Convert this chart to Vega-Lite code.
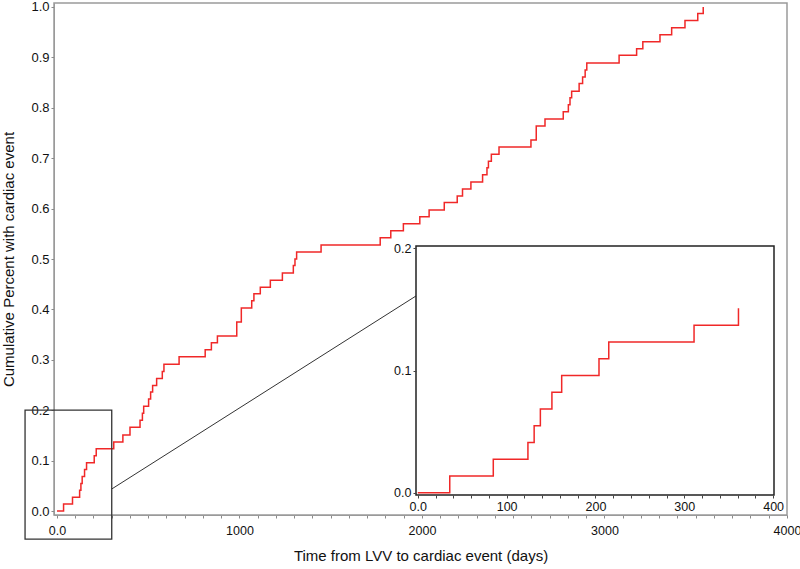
{
  "$schema": "https://vega.github.io/schema/vega-lite/v6.json",
  "width": 733,
  "height": 512,
  "autosize": {"type": "none"},
  "padding": {"left": 54, "top": 3, "right": 13, "bottom": 54},
  "background": "white",
  "config": {
    "font": "Liberation Sans",
    "view": {"stroke": "#9a9a9a", "strokeWidth": 1.5},
    "axis": {
      "labelFont": "Liberation Sans",
      "titleFont": "Liberation Sans",
      "labelFontSize": 12.5,
      "labelColor": "#111",
      "titleFontSize": 15,
      "titleFontWeight": "normal",
      "titleColor": "#111",
      "grid": false,
      "tickSize": 3,
      "tickCount": 200,
      "labelPadding": 2,
      "labelFlush": false,
      "labelOverlap": false
    }
  },
  "datasets": {
    "main": [
      {"day": 0, "p": 0},
      {"day": 36, "p": 0.0137},
      {"day": 85, "p": 0.0274},
      {"day": 124, "p": 0.0411},
      {"day": 131, "p": 0.0548},
      {"day": 138, "p": 0.0685},
      {"day": 151, "p": 0.0822},
      {"day": 162, "p": 0.0959},
      {"day": 204, "p": 0.1096},
      {"day": 215, "p": 0.1233},
      {"day": 311, "p": 0.137},
      {"day": 361, "p": 0.151},
      {"day": 400, "p": 0.166},
      {"day": 455, "p": 0.18},
      {"day": 468, "p": 0.194},
      {"day": 475, "p": 0.208},
      {"day": 502, "p": 0.222},
      {"day": 513, "p": 0.236},
      {"day": 524, "p": 0.249},
      {"day": 546, "p": 0.263},
      {"day": 577, "p": 0.277},
      {"day": 586, "p": 0.291},
      {"day": 669, "p": 0.306},
      {"day": 812, "p": 0.32},
      {"day": 846, "p": 0.334},
      {"day": 879, "p": 0.347},
      {"day": 985, "p": 0.375},
      {"day": 1010, "p": 0.403},
      {"day": 1067, "p": 0.417},
      {"day": 1079, "p": 0.431},
      {"day": 1114, "p": 0.444},
      {"day": 1169, "p": 0.458},
      {"day": 1235, "p": 0.472},
      {"day": 1295, "p": 0.487},
      {"day": 1304, "p": 0.5},
      {"day": 1313, "p": 0.514},
      {"day": 1447, "p": 0.528},
      {"day": 1771, "p": 0.542},
      {"day": 1829, "p": 0.556},
      {"day": 1898, "p": 0.57},
      {"day": 1988, "p": 0.584},
      {"day": 2039, "p": 0.597},
      {"day": 2122, "p": 0.612},
      {"day": 2193, "p": 0.625},
      {"day": 2222, "p": 0.639},
      {"day": 2268, "p": 0.653},
      {"day": 2332, "p": 0.667},
      {"day": 2356, "p": 0.681},
      {"day": 2364, "p": 0.694},
      {"day": 2380, "p": 0.708},
      {"day": 2422, "p": 0.722},
      {"day": 2597, "p": 0.736},
      {"day": 2626, "p": 0.764},
      {"day": 2674, "p": 0.778},
      {"day": 2774, "p": 0.792},
      {"day": 2802, "p": 0.806},
      {"day": 2811, "p": 0.82},
      {"day": 2820, "p": 0.833},
      {"day": 2861, "p": 0.848},
      {"day": 2880, "p": 0.861},
      {"day": 2894, "p": 0.875},
      {"day": 2903, "p": 0.889},
      {"day": 3080, "p": 0.904},
      {"day": 3176, "p": 0.917},
      {"day": 3210, "p": 0.931},
      {"day": 3304, "p": 0.945},
      {"day": 3368, "p": 0.959},
      {"day": 3441, "p": 0.973},
      {"day": 3511, "p": 0.987},
      {"day": 3541, "p": 1.0}
    ],
    "inset": [
      {"day": 0, "p": 0},
      {"day": 36, "p": 0.0137},
      {"day": 85, "p": 0.0274},
      {"day": 124, "p": 0.0411},
      {"day": 131, "p": 0.0548},
      {"day": 138, "p": 0.0685},
      {"day": 151, "p": 0.0822},
      {"day": 162, "p": 0.0959},
      {"day": 204, "p": 0.1096},
      {"day": 215, "p": 0.1233},
      {"day": 311, "p": 0.137},
      {"day": 361, "p": 0.151}
    ],
    "one": [{"k": 1}]
  },
  "resolve": {
    "scale": {"x": "independent", "y": "independent"},
    "axis": {"x": "independent", "y": "independent"}
  },
  "layer": [
    {
      "layer": [
        {
          "data": {"name": "main"},
          "mark": {"type": "line", "interpolate": "step-after", "color": "#f02828", "strokeWidth": 1.5},
          "encoding": {
            "x": {
              "field": "day", "type": "quantitative",
              "scale": {"domain": [-16.4, 4000], "nice": false, "zero": false},
              "axis": {
                "title": "Time from LVV to cardiac event (days)",
                "values": [0,100,200,300,400,500,600,700,800,900,1000,1100,1200,1300,1400,1500,1600,1700,1800,1900,2000,2100,2200,2300,2400,2500,2600,2700,2800,2900,3000,3100,3200,3300,3400,3500,3600,3700,3800,3900,4000],
                "format": "d",
                "labelExpr": "datum.value % 1000 === 0 ? (datum.value === 0 ? '0.0' : datum.label) : ''",
                "domainColor": "#9a9a9a",
                "tickColor": "#8a8a8a",
                "labelPadding": 6,
                "titlePadding": 12
              }
            },
            "y": {
              "field": "p", "type": "quantitative",
              "scale": {"domain": [-0.0079, 1.0079], "nice": false, "zero": false},
              "axis": {
                "title": "Cumulative Percent with cardiac event",
                "values": [0,0.1,0.2,0.3,0.4,0.5,0.6,0.7,0.8,0.9,1.0],
                "format": ".1f",
                "labelFontSize": 13,
                "domainColor": "#9a9a9a",
                "tickColor": "#8a8a8a",
                "titlePadding": 14
              }
            }
          }
        },
        {
          "data": {"name": "one"},
          "mark": {"type": "rect", "fill": null, "stroke": "#333", "strokeWidth": 1.3},
          "encoding": {
            "x": {"datum": -175, "type": "quantitative"},
            "x2": {"datum": 300},
            "y": {"datum": -0.0556, "type": "quantitative"},
            "y2": {"datum": 0.2}
          }
        },
        {
          "data": {"name": "one"},
          "mark": {"type": "rule", "color": "#333", "strokeWidth": 1},
          "encoding": {
            "x": {"datum": 300, "type": "quantitative"},
            "x2": {"datum": 1967},
            "y": {"datum": 0.0437, "type": "quantitative"},
            "y2": {"datum": 0.4266}
          }
        }
      ]
    },
    {
      "layer": [
        {
          "data": {"name": "one"},
          "mark": {"type": "rect", "fill": "white", "stroke": "#222", "strokeWidth": 1.5},
          "encoding": {
            "x": {"datum": -2, "type": "quantitative"},
            "x2": {"datum": 401},
            "y": {"datum": -0.0019, "type": "quantitative"},
            "y2": {"datum": 0.2019}
          }
        },
        {
          "data": {"name": "inset"},
          "mark": {"type": "line", "interpolate": "step-after", "color": "#f02828", "strokeWidth": 1.5},
          "encoding": {
            "x": {
              "field": "day", "type": "quantitative",
              "scale": {"domain": [-2, 401], "range": [362, 720], "nice": false, "zero": false},
              "axis": {
                "title": null,
                "orient": "bottom",
                "offset": -20,
                "domain": false,
                "zindex": 1,
                "values": [0,20,40,60,80,100,120,140,160,180,200,220,240,260,280,300,320,340,360,380,400],
                "format": "d",
                "labelExpr": "datum.value % 100 === 0 ? (datum.value === 0 ? '0.0' : datum.label) : ''",
                "tickColor": "#444"
              }
            },
            "y": {
              "field": "p", "type": "quantitative",
              "scale": {"domain": [-0.0019, 0.2019], "range": [492, 243], "nice": false, "zero": false},
              "axis": {
                "title": null,
                "orient": "left",
                "offset": -362,
                "domain": false,
                "zindex": 1,
                "values": [0, 0.1, 0.2],
                "format": ".1f",
                "tickColor": "#444"
              }
            }
          }
        }
      ]
    }
  ]
}
